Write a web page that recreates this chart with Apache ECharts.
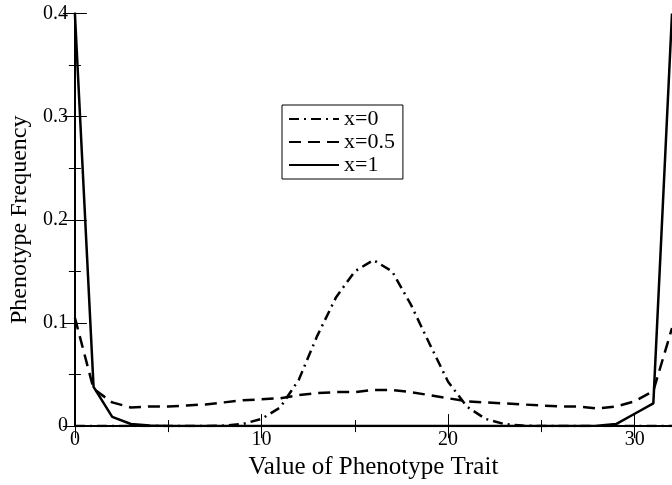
<!DOCTYPE html>
<html>
<head>
<meta charset="utf-8">
<script src="https://cdn.jsdelivr.net/npm/echarts@6/dist/echarts.min.js"></script>
<style>html,body{margin:0;padding:0;background:#fff}#c{width:672px;height:485px}</style>
</head>
<body>
<div id="c"></div>
<script>
var traitValues = [0,1,2,3,4,5,6,7,8,9,10,11,12,13,14,15,16,17,18,19,20,21,22,23,24,25,26,27,28,29,30,31,32];
var seriesNames = ["x=0", "x=0.5", "x=1"];
var freqX0 = [0,0,0,0,0,0,0,0,0.0005,0.002,0.007,0.018,0.045,0.088,0.125,0.15,0.161,0.15,0.118,0.08,0.043,0.019,0.007,0.002,0.0005,0,0,0,0,0,0,0,0];
var freqX05 = [0.105,0.036,0.023,0.018,0.019,0.019,0.02,0.021,0.023,0.025,0.026,0.027,0.03,0.032,0.033,0.033,0.035,0.035,0.033,0.03,0.027,0.024,0.023,0.022,0.021,0.02,0.019,0.019,0.017,0.019,0.024,0.034,0.095];
var freqX1 = [0.4,0.038,0.009,0.002,0.0005,0,0,0,0,0,0,0,0,0,0,0,0,0,0,0,0,0,0,0,0,0,0,0,0.0003,0.002,0.012,0.022,0.4];
var xTicks = [0,10,20,30];
var yTicks = [0,0.1,0.2,0.3,0.4];

function pairs(arr){ return traitValues.map(function(x,i){ return [x, arr[i]]; }); }
var FONT = "Liberation Serif";
var chart = echarts.init(document.getElementById('c'), null, {renderer:'canvas'});
function yFmt(v){ var r = Math.round(v*10)/10; return yTicks.indexOf(r) >= 0 ? String(r) : ''; }
function xFmt(v){ return xTicks.indexOf(v) >= 0 ? String(v) : ''; }
function tickAxis(base, pos, interval, len, showLine){
  return Object.assign({
    type:'value', position:pos, interval:interval,
    axisLine:{show:showLine, lineStyle:{color:'#000', width:2}},
    axisTick:{show:true, inside:true, length:len, lineStyle:{color:'#000', width:1}},
    axisLabel:{show:false}, splitLine:{show:false}, minorTick:{show:false}
  }, base);
}
var xBase = {min:0, max:32};
var yBase = {min:0, max:0.4};
var xMain = tickAxis(xBase, 'bottom', 10, 12, true);
xMain.name = 'Value of Phenotype Trait';
xMain.nameLocation = 'middle';
xMain.nameGap = 20;
xMain.nameTextStyle = {fontFamily:FONT, fontSize:25, color:'#000'};
xMain.axisLabel = {show:true, fontFamily:FONT, fontSize:20, color:'#000', margin:4, showMaxLabel:false, formatter:xFmt};
var yMain = tickAxis(yBase, 'left', 0.1, 12, true);
yMain.name = 'Phenotype Frequency';
yMain.nameLocation = 'middle';
yMain.nameGap = 40;
yMain.nameTextStyle = {fontFamily:FONT, fontSize:24, color:'#000'};
yMain.axisLabel = {show:true, fontFamily:FONT, fontSize:20, color:'#000', margin:7, formatter:yFmt};

chart.setOption({
  animation:false,
  backgroundColor:'#fff',
  grid:{left:70.5, top:13.5, right:-3, bottom:48, containLabel:false},
  legend:{
    data:seriesNames, orient:'vertical', left:282, top:105,
    itemWidth:50, itemHeight:14, itemGap:1,
    backgroundColor:'#fff', borderColor:'#000', borderWidth:1, padding:[3,8,3,6],
    itemStyle:{color:'rgba(0,0,0,0)', borderColor:'rgba(0,0,0,0)', borderWidth:0},
    textStyle:{fontFamily:FONT, fontSize:22, lineHeight:22, color:'#000'}
  },
  xAxis:[
    xMain,
    tickAxis(xBase, 'bottom', 5, 6, false),
    tickAxis(xBase, 'top', 10, 12, true),
    tickAxis(xBase, 'top', 5, 6, false)
  ],
  yAxis:[
    yMain,
    tickAxis(yBase, 'left', 0.05, 6, false),
    tickAxis(yBase, 'right', 0.1, 12, true),
    tickAxis(yBase, 'right', 0.05, 6, false)
  ],
  series:[
    {name:seriesNames[0], type:'line', data:pairs(freqX0), showSymbol:false, symbol:'none', clip:true,
     lineStyle:{color:'#000', width:2.5, type:[10,5,2,5]}, itemStyle:{color:'#000'}},
    {name:seriesNames[1], type:'line', data:pairs(freqX05), showSymbol:false, symbol:'none', clip:true,
     lineStyle:{color:'#000', width:2.5, type:[12,7]}, itemStyle:{color:'#000'}},
    {name:seriesNames[2], type:'line', data:pairs(freqX1), showSymbol:false, symbol:'none', clip:true,
     lineStyle:{color:'#000', width:2.5, type:'solid'}, itemStyle:{color:'#000'}}
  ]
});
</script>
</body>
</html>
